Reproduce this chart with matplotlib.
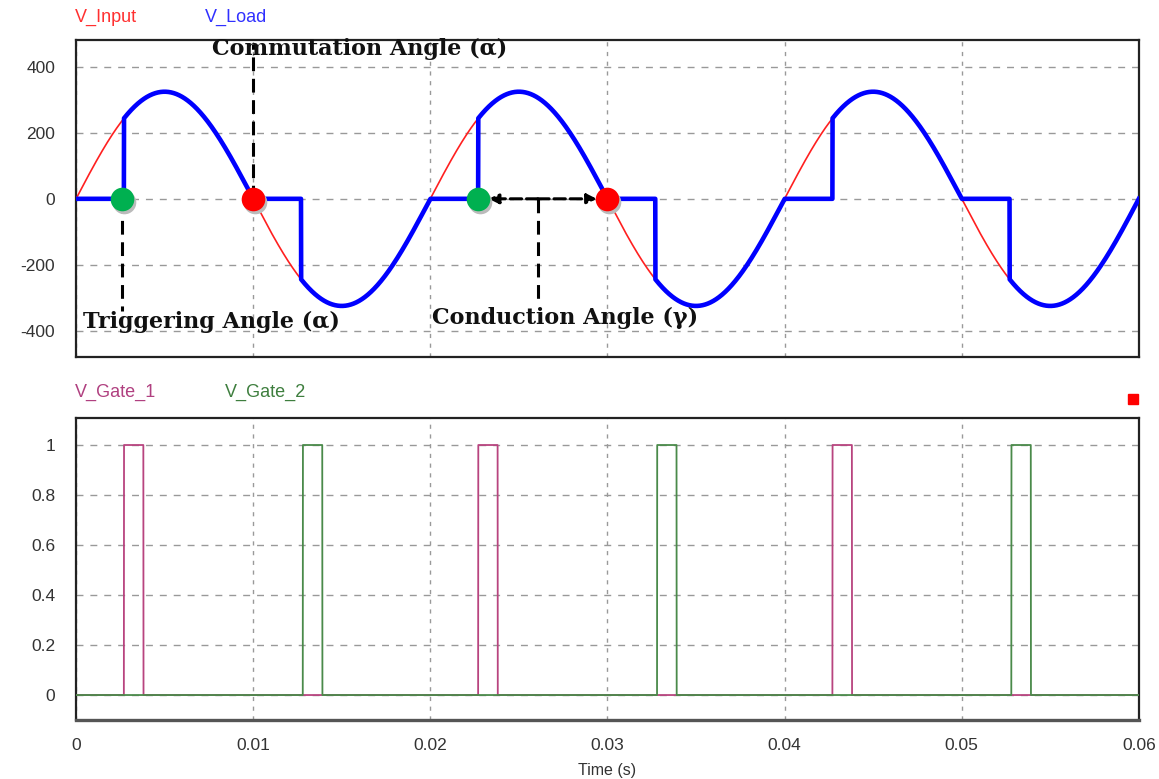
import numpy as np
import matplotlib.pyplot as plt
from matplotlib.ticker import FuncFormatter

# waveform parameters
amplitude = 325.0          # V peak
frequency = 50.0           # Hz
t_end = 0.06               # s
fire_delay = 0.0027        # s after each zero crossing

gate1_on = [0.0027, 0.0227, 0.0427]
gate1_off = [0.0038, 0.0238, 0.0438]
gate2_on = [0.0128, 0.0328, 0.0528]
gate2_off = [0.0139, 0.0339, 0.0539]

top_yticks = [-400, -200, 0, 200, 400]
bot_yticks = [0, 0.2, 0.4, 0.6, 0.8, 1]
xticks = [0, 0.01, 0.02, 0.03, 0.04, 0.05, 0.06]

# annotation markers
green_dots = [0.0026, 0.0227]
red_dots = [0.01, 0.03]

t = np.linspace(0, t_end, 6001)
v_input = amplitude * np.sin(2 * np.pi * frequency * t)
half = 0.5 / frequency
v_load = np.where(np.mod(t, half) >= fire_delay, v_input, 0.0)


def pulses(on, off):
    g = np.zeros_like(t)
    for a, b in zip(on, off):
        g[(t >= a) & (t <= b)] = 1.0
    return g


gate1 = pulses(gate1_on, gate1_off)
gate2 = pulses(gate2_on, gate2_off)

plt.rcParams['font.family'] = ['Liberation Sans', 'DejaVu Sans']
fig = plt.figure(figsize=(11.59, 7.79), dpi=100)
ax1 = fig.add_axes([0.0656, 0.5417, 0.917, 0.407])
ax2 = fig.add_axes([0.0656, 0.0757, 0.917, 0.3877])

ax1.plot(t, v_input, color='#ff2020', lw=1.2, zorder=3)
ax1.plot(t, v_load, color='#0000ff', lw=3.3, zorder=4)
ax1.set_ylim(-480, 482)
ax1.set_yticks(top_yticks)
ax1.yaxis.set_major_formatter(FuncFormatter(lambda v, p: '%d' % v))

ax2.plot(t, gate1, color='#b8447f', lw=1.3, zorder=3)
ax2.plot(t, gate2, color='#4a8a4a', lw=1.3, zorder=4)
ax2.set_ylim(-0.1, 1.108)
ax2.set_yticks(bot_yticks)
ax2.yaxis.set_major_formatter(FuncFormatter(lambda v, p: '%g' % v))

for ax in (ax1, ax2):
    ax.set_xlim(0, t_end)
    ax.set_xticks(xticks)
    ax.tick_params(length=0, labelsize=12.5, labelcolor='#333333', pad=15)
    ax.xaxis.grid(True, color='#999999', linestyle=(0, (3, 4)), lw=1)
    ax.yaxis.grid(True, color='#999999', linestyle=(0, (5, 5)), lw=1)
    ax.set_axisbelow(True)
    for s in ax.spines.values():
        s.set_color('#222222')
        s.set_linewidth(1.6)
    ax.spines['right'].set_linestyle((0, (2, 1)))

ax1.tick_params(labelbottom=False)
ax2.xaxis.set_major_formatter(FuncFormatter(lambda v, p: '0' if v == 0 else '%.2f' % v))
ax2.tick_params(axis='x', pad=13)
ax2.spines['bottom'].set_linewidth(2.4)
ax2.spines['bottom'].set_color('#555555')
ax2.set_xlabel('Time (s)', fontsize=11.5, color='#333333', labelpad=7)

# legend-like labels above the panels
lab = dict(fontsize=13, va='center')
fig.text(75 / 1159, 1 - 17 / 779, 'V_Input', color='#ff3030', **lab)
fig.text(205 / 1159, 1 - 17 / 779, 'V_Load', color='#3030ff', **lab)
fig.text(75 / 1159, 1 - 392 / 779, 'V_Gate_1', color='#b04080', **lab)
fig.text(225 / 1159, 1 - 392 / 779, 'V_Gate_2', color='#3e7e3e', **lab)
fig.patches.append(plt.Rectangle((1128 / 1159, 1 - 404 / 779), 10 / 1159, 10 / 779,
                                 transform=fig.transFigure, color='#ff0000'))

# annotations
dash = (0, (4.5, 2.5))
ax1.plot([red_dots[0], red_dots[0]], [0, 470], color='black', lw=2.2, linestyle=dash, zorder=5)
ax1.plot([green_dots[0], green_dots[0]], [0, -340], color='black', lw=2.2, linestyle=dash, zorder=5)
ax1.plot([0.02607, 0.02607], [0, -306], color='black', lw=2.2, linestyle=dash, zorder=5)
ax1.annotate('', xy=(green_dots[1] + 0.0006, 0), xytext=(0.02607, 0),
             arrowprops=dict(arrowstyle='-|>', color='black', lw=2.2, linestyle='--',
                             mutation_scale=14, shrinkA=0, shrinkB=0), zorder=6)
ax1.annotate('', xy=(red_dots[1] - 0.0006, 0), xytext=(0.02607, 0),
             arrowprops=dict(arrowstyle='-|>', color='black', lw=2.2, linestyle='--',
                             mutation_scale=14, shrinkA=0, shrinkB=0), zorder=6)

for x in green_dots:
    ax1.plot(x + 0.0001, -10, 'o', ms=17, color='#bbbbbb', mec='none', zorder=6)
    ax1.plot(x, 0, 'o', ms=17, color='#00b050', mec='none', zorder=7)
for x in red_dots:
    ax1.plot(x + 0.0001, -10, 'o', ms=17, color='#bbbbbb', mec='none', zorder=6)
    ax1.plot(x, 0, 'o', ms=17, color='#ff0000', mec='none', zorder=7)

txt = dict(family='DejaVu Serif', fontweight='bold', fontsize=16, color='#111111',
           va='center', zorder=8)
ax1.text(0.00767, 455, 'Commutation Angle (α)', **txt)
ax1.text(0.0004, -373, 'Triggering Angle (α)', **txt)
ax1.text(0.0201, -361, 'Conduction Angle (γ)', **txt)

fig.savefig('out.png', dpi=100)
